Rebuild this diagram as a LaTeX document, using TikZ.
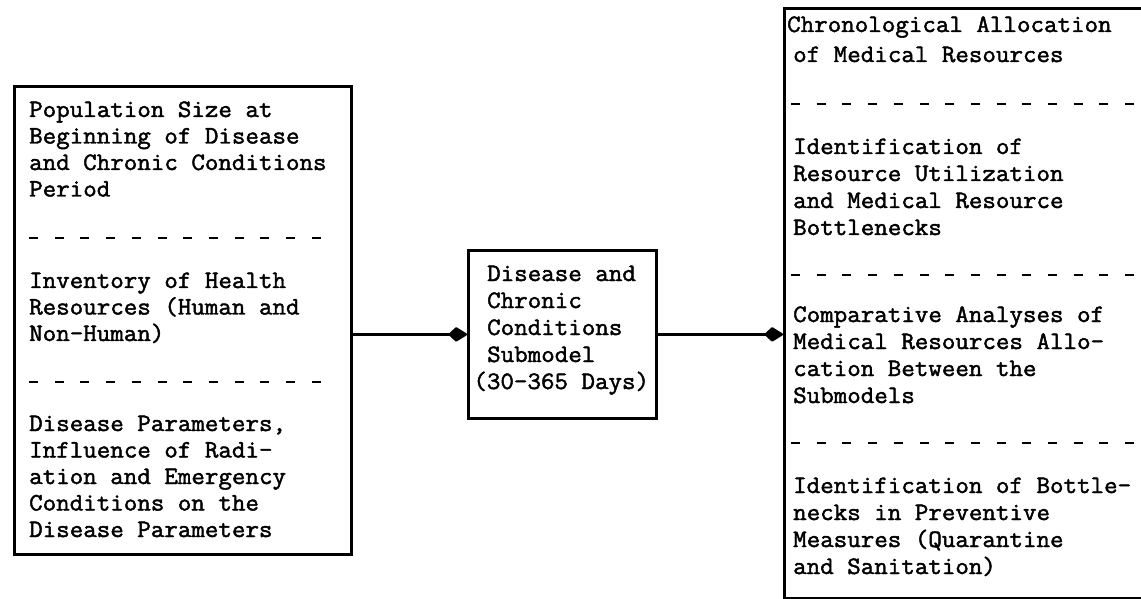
\documentclass[tikz,border=0pt]{standalone}
\usepackage{fontspec}
\usetikzlibrary{arrows.meta}
\newfontfamily\tw{Latin Modern Mono}[FakeStretch=1.05,FakeBold=1.8]
\begin{document}
\begin{tikzpicture}[x=1bp,y=-1bp,
  box/.style={draw,line width=2.8bp,anchor=north west,inner sep=0pt},
  % text blocks are placed by the baseline of their last line
  txt/.style={anchor=base west,inner sep=0pt,align=left,
    font=\fontsize{25bp}{27bp}\selectfont\tw},
  ltxt/.style={txt,font=\fontsize{25bp}{26.5bp}\selectfont\tw},
  sepline/.style={line width=2.6bp,dash pattern=on 9bp off 16.7bp},
  conn/.style={line width=2.4bp,-{Kite[length=20bp,width=15bp,inset=8bp,round]}}]
\useasboundingbox (0,0) rectangle (1141,599);

% boxes
\node[box,minimum width=337bp,minimum height=468bp] (pop) at (13,85) {};
\node[box,minimum width=188bp,minimum height=168bp] (sub) at (467,249) {};
% the results box runs on past the right edge of the page
\node[box,minimum width=420bp,minimum height=590bp] (res) at (783,7) {};

% inputs
\node[ltxt] (popA) at (29,196.5) {Population Size at\\Beginning of Disease\\and Chronic Conditions\\Period};
\draw[sepline] (29,238) -- (322,238);
\node[ltxt] (popB) at (29,341) {Inventory of Health\\Resources (Human and\\Non-Human)};
\draw[sepline] (29,382) -- (322,382);
\node[ltxt] (popC) at (29,537) {Disease Parameters,\\Influence of Radi-\\ation and Emergency\\Conditions on the\\Disease Parameters};

% submodel
\node[txt] (subT) at (487,389) {Disease and\\Chronic\\Conditions\\Submodel\\\hspace*{-13.8bp}(30-365 Days)};

% outputs
\node[txt] (resA) at (787,62) {Chronological Allocation\\[3bp]\hspace*{6bp}of Medical Resources};
\draw[sepline] (791,104) -- (1141,104);
\node[txt] (resB) at (793,235) {Identification of\\Resource Utilization\\and Medical Resource\\Bottlenecks};
\draw[sepline] (791,275) -- (1141,275);
\node[txt] (resC) at (793,403) {Comparative Analyses of\\Medical Resources Allo-\\cation Between the\\Submodels};
\draw[sepline] (791,443) -- (1141,443);
\node[txt] (resD) at (793,574) {Identification of Bottle-\\necks in Preventive\\Measures (Quarantine\\and Sanitation)};

% flow
\draw[conn] (sub.west -| pop.east) -- (sub.west);
\draw[conn] (sub.east) -- (sub.east -| res.west);
\end{tikzpicture}
\end{document}
